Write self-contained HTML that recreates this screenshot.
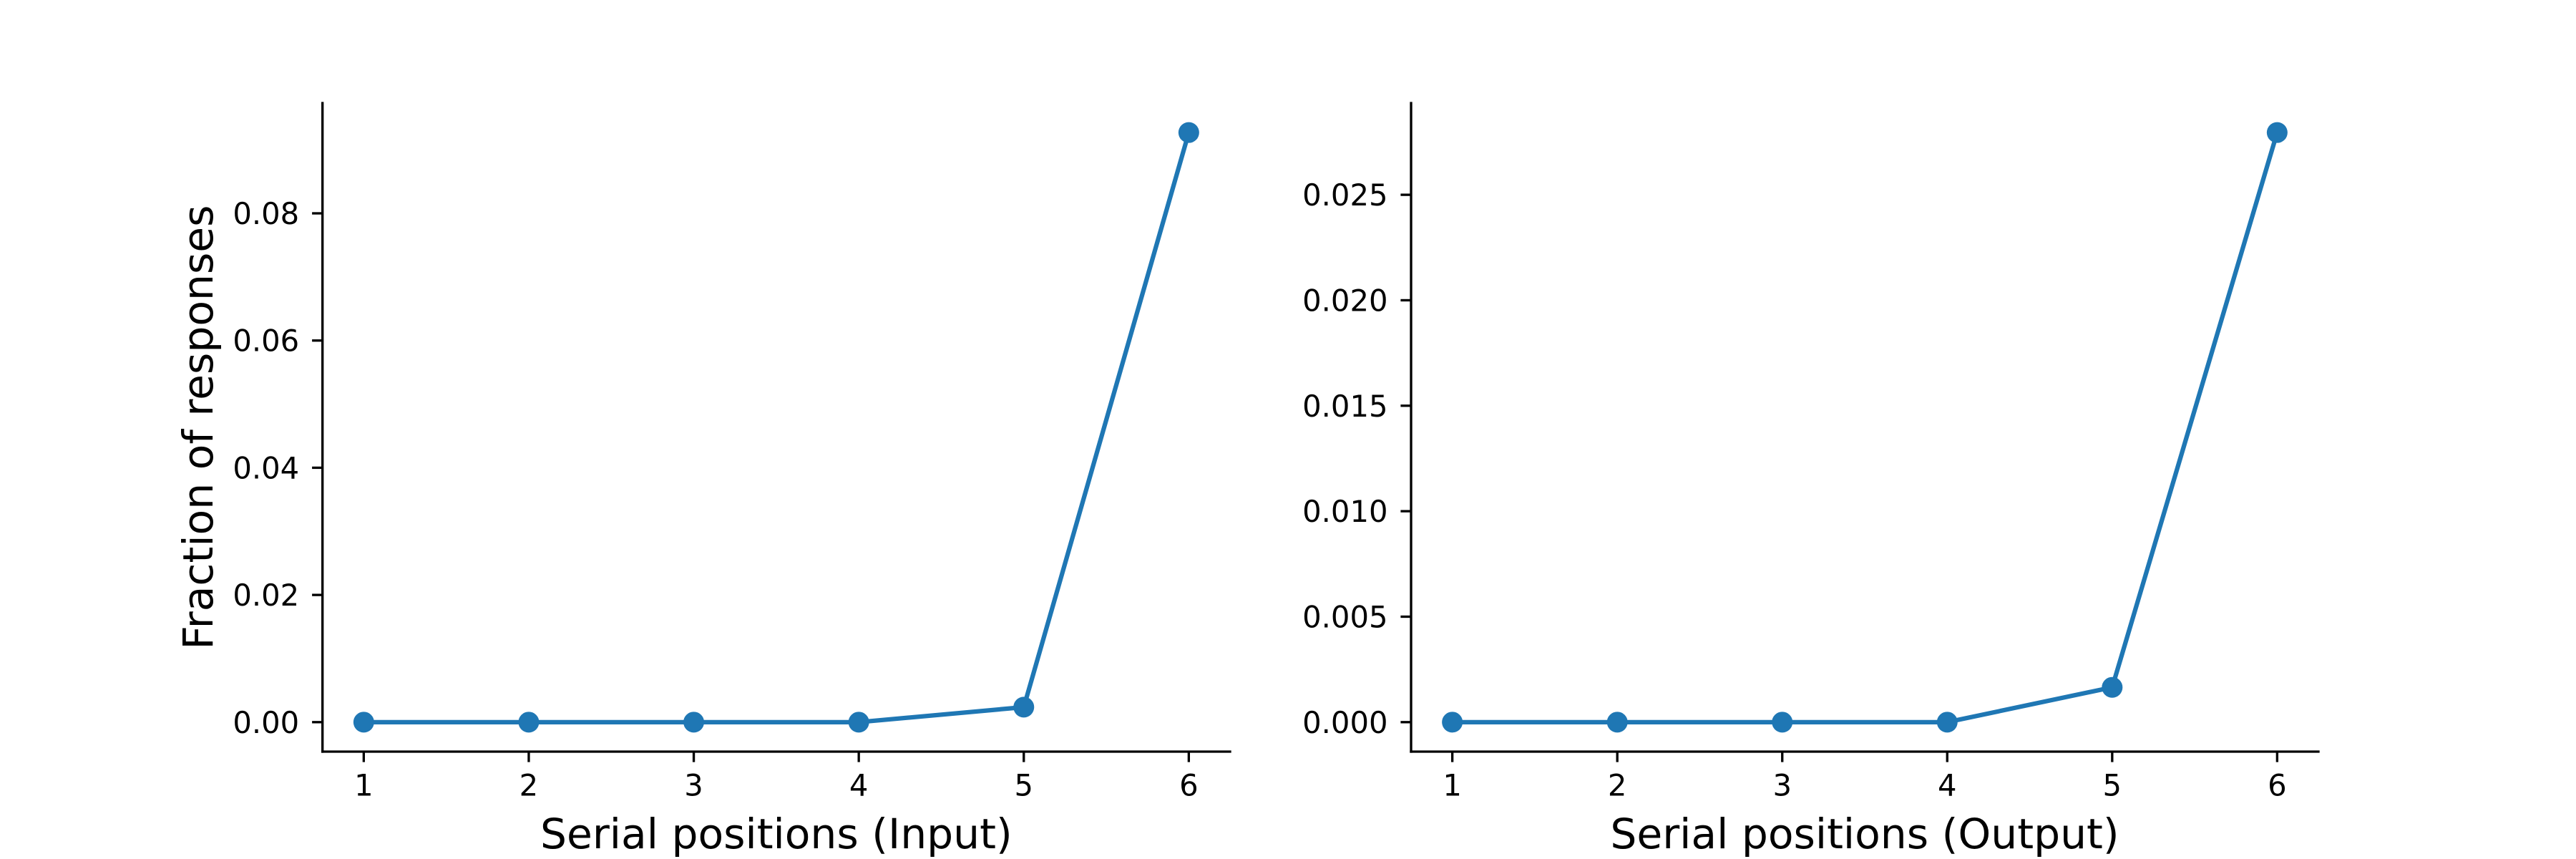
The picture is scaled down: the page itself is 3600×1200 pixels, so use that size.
<!DOCTYPE html>
<html><head><meta charset="utf-8"><style>
html,body{margin:0;padding:0;background:#fff;}
svg{display:block;font-family:"DejaVu Sans","Liberation Sans",sans-serif;}
</style></head><body>
<svg id="fig" width="3600" height="1200" viewBox="0 0 3600 1200" xmlns="http://www.w3.org/2000/svg"></svg>
<script>
const categories = [1, 2, 3, 4, 5, 6];
const inputValues = [0, 0, 0, 0, 0.00236, 0.0927];
const outputValues = [0, 0, 0, 0, 0.00165, 0.02795];
const inputTicks = [0, 0.02, 0.04, 0.06, 0.08];
const inputTickLabels = ["0.00", "0.02", "0.04", "0.06", "0.08"];
const outputTicks = [0, 0.005, 0.01, 0.015, 0.02, 0.025];
const outputTickLabels = ["0.000", "0.005", "0.010", "0.015", "0.020", "0.025"];

const NS = "http://www.w3.org/2000/svg";
const svg = document.getElementById("fig");
function mk(tag, attrs, parent) {
  const e = document.createElementNS(NS, tag);
  for (const k in attrs) e.setAttribute(k, attrs[k]);
  (parent || svg).appendChild(e);
  return e;
}
function panel(left, right, values, ticks, tickLabels, xlabel, ylabel, name) {
  const top = 144, bottom = 1050;
  const g = mk("g", {});
  
  
  const xmin = Math.min(...categories), xmax = Math.max(...categories);
  const xr = xmax - xmin;
  const x0 = xmin - 0.05 * xr, x1 = xmax + 0.05 * xr;
  const xs = v => left + (v - x0) / (x1 - x0) * (right - left);
  const ymax = Math.max(...values), ymin = Math.min(0, ...values);
  const yr = ymax - ymin;
  const y0 = ymin - 0.05 * yr, y1 = ymax + 0.05 * yr;
  const ys = v => bottom - (v - y0) / (y1 - y0) * (bottom - top);
  const sl = mk("line", {x1: left, y1: top, x2: left, y2: bottom, stroke: "#000", "stroke-width": 3.33, "stroke-linecap": "square"}, g);
  
  
  const sb = mk("line", {x1: left, y1: bottom, x2: right, y2: bottom, stroke: "#000", "stroke-width": 3.33, "stroke-linecap": "square"}, g);
  
  
  categories.forEach(c => {
    const x = xs(c);
    const t = mk("line", {x1: x, y1: bottom, x2: x, y2: bottom + 14.6, stroke: "#000", "stroke-width": 3.33}, g);
    
    
    const tx = mk("text", {x: x, y: 1111.5, "font-size": 41.7, "text-anchor": "middle", fill: "#000"}, g);
    tx.textContent = String(c);
    
    
  });
  ticks.forEach((v, i) => {
    const y = ys(v);
    const t = mk("line", {x1: left - 14.6, y1: y, x2: left, y2: y, stroke: "#000", "stroke-width": 3.33}, g);
    
    
    const tx = mk("text", {x: left - 32.5, y: y + 15, "font-size": 41.7, "text-anchor": "end", fill: "#000"}, g);
    tx.textContent = tickLabels[i];
    
    
  });
  const pts = categories.map((c, i) => xs(c) + "," + ys(values[i])).join(" ");
  const pl = mk("polyline", {points: pts, fill: "none", stroke: "#1f77b4", "stroke-width": 6.25, "stroke-linejoin": "round", "stroke-linecap": "square"}, g);
  
  
  categories.forEach((c, i) => {
    const p = mk("circle", {cx: xs(c), cy: ys(values[i]), r: 14.5, fill: "#1f77b4"}, g);
    
    
  });
  const xl = mk("text", {x: (left + right) / 2, y: 1185, "font-size": 58.3, "text-anchor": "middle", fill: "#000"}, g);
  xl.textContent = xlabel;
  
  
  if (ylabel) {
    const cy = (top + bottom) / 2;
    const yl = mk("text", {x: 297, y: cy, "font-size": 58.3, "text-anchor": "middle", fill: "#000", transform: "rotate(-90 297 " + cy + ")"}, g);
    yl.textContent = ylabel;
    
    
  }
}
panel(450.7, 1719, inputValues, inputTicks, inputTickLabels, "Serial positions (Input)", "Fraction of responses", "input-panel");
panel(1972, 3240, outputValues, outputTicks, outputTickLabels, "Serial positions (Output)", null, "output-panel");
</script>
</body></html>
